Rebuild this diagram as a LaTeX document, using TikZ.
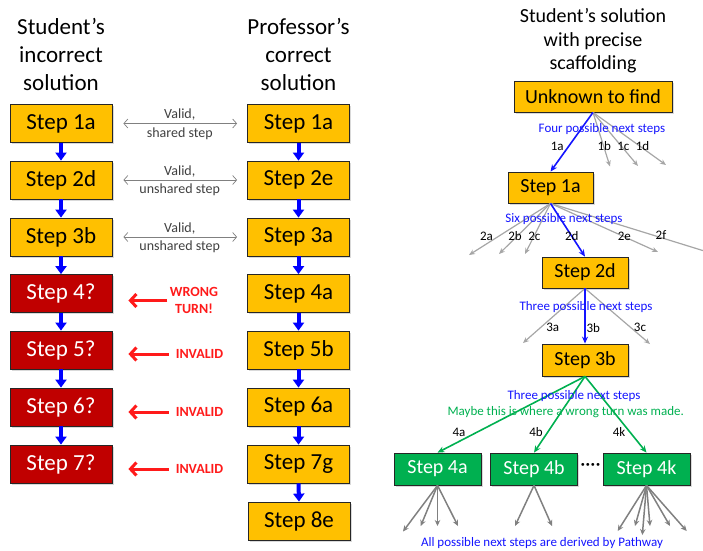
\documentclass[tikz,border=0pt]{standalone}
\usepackage{fontspec}
\setmainfont{Carlito}
\usetikzlibrary{arrows.meta,shadows}
\definecolor{amber}{HTML}{FFC000}
\definecolor{dred}{HTML}{C00000}
\definecolor{grn}{HTML}{00B050}
\definecolor{lgray}{HTML}{A6A6A6}
\definecolor{mgray}{HTML}{808080}
\definecolor{tblue}{HTML}{1414FF}
\definecolor{rlab}{HTML}{FF1A1A}
\begin{document}
\begin{tikzpicture}[x=1pt,y=-1pt,
  sbox/.style={draw=black!85, line width=0.8pt, inner sep=0pt,
    drop shadow={shadow xshift=1.5pt, shadow yshift=-1.5pt, opacity=0.3}},
  lbox/.style={sbox, minimum width=102pt, minimum height=38pt, font=\fontsize{23}{27}\selectfont},
  obox/.style={lbox, fill=amber},
  rbox/.style={lbox, fill=dred, text=white},
  tbox/.style={sbox, fill=amber, minimum width=86pt, minimum height=31pt, font=\fontsize{20}{24}\selectfont},
  gbox/.style={sbox, fill=grn, text=white, minimum width=87pt, minimum height=32pt, font=\fontsize{20}{24}\selectfont},
  title/.style={align=center, font=\fontsize{23}{28}\selectfont},
  ttitle/.style={align=center, font=\fontsize{20}{23.5}\selectfont},
  flowarrow/.style={blue, line width=4pt, -{Triangle[length=8pt,width=11pt]}},
  dblarrow/.style={mgray, line width=0.7pt, {Straight Barb[length=4pt,width=9pt]}-{Straight Barb[length=4pt,width=9pt]}, shorten <=11pt, shorten >=10pt},
  small/.style={font=\fontsize{14}{17}\selectfont, text=black!75},
  redlab/.style={text=rlab, inner sep=0pt, align=center, font=\bfseries\fontsize{14}{17}\selectfont},
  redarrow/.style={rlab, line width=3pt, -{Straight Barb[length=6pt,width=13pt]}, shorten >=16pt},
  garr/.style={lgray, line width=1.2pt, -{Stealth[length=6pt,width=5pt]}},
  darr/.style={mgray, line width=1.5pt, -{Stealth[length=6pt,width=5.5pt]}},
  barr/.style={tblue, line width=1.6pt, -{Stealth[length=7pt,width=6pt]}},
  grarr/.style={grn, line width=1.6pt, -{Stealth[length=7pt,width=6pt]}},
  tlab/.style={font=\fontsize{13}{15}\selectfont},
  blab/.style={tlab, text=tblue},
]
\useasboundingbox (0,0) rectangle (703,550);
\clip (0,0) rectangle (703,550);

% Titles
\node[title] (tl) at (61,54) {Student’s\\incorrect\\solution};
\node[title] (tr) at (298.5,54) {Professor’s\\correct\\solution};
\node[ttitle] (tt) at (593,41) {Student’s solution\\with precise\\scaffolding};

% Left column
\node[obox] (L1) at (61,123.5) {Step 1a};
\node[obox] (L2) at (61,180) {Step 2d};
\node[obox] (L3) at (61,237) {Step 3b};
\node[rbox] (L4) at (61,293.5) {Step 4?};
\node[rbox] (L5) at (61,350) {Step 5?};
\node[rbox] (L6) at (61,407) {Step 6?};
\node[rbox] (L7) at (61,464) {Step 7?};
\foreach \a/\b in {L1/L2,L2/L3,L3/L4,L4/L5,L5/L6,L6/L7}
  \draw[flowarrow] (\a.south) -- (\b.north);

% Right column
\node[obox] (R1) at (298.5,123.5) {Step 1a};
\node[obox] (R2) at (298.5,180) {Step 2e};
\node[obox] (R3) at (298.5,237) {Step 3a};
\node[obox] (R4) at (298.5,293.5) {Step 4a};
\node[obox] (R5) at (298.5,350) {Step 5b};
\node[obox] (R6) at (298.5,407) {Step 6a};
\node[obox] (R7) at (298.5,464) {Step 7g};
\node[obox] (R8) at (299,521) {Step 8e};
\foreach \a/\b in {R1/R2,R2/R3,R3/R4,R4/R5,R5/R6,R6/R7,R7/R8}
  \draw[flowarrow] (\a.south) -- (\b.north);

% Valid links
\draw[dblarrow] (L1) -- (R1)
  node[pos=.5, small, anchor=base, yshift=5pt] {Valid,}
  node[pos=.5, small, anchor=base, yshift=-13.5pt] {shared step};
\draw[dblarrow] (L2) -- (R2)
  node[pos=.5, small, anchor=base, yshift=5pt] {Valid,}
  node[pos=.5, small, anchor=base, yshift=-13.5pt] {unshared step};
\draw[dblarrow] (L3) -- (R3)
  node[pos=.5, small, anchor=base, yshift=5pt] {Valid,}
  node[pos=.5, small, anchor=base, yshift=-13.5pt] {unshared step};

% Red labels
\node[redlab] (w4) at (194,300.5) {WRONG\\TURN!};
\node[redlab] (i5) at (199.5,354) {INVALID};
\node[redlab] (i6) at (199.5,412) {INVALID};
\node[redlab] (i7) at (199.5,469) {INVALID};
\draw[redarrow, shorten <=2.5pt] (w4.west) -- (L4.east |- w4.west);
\draw[redarrow, shorten <=7pt] (i5.west) -- (L5.east |- i5.west);
\draw[redarrow, shorten <=7pt] (i6.west) -- (L6.east |- i6.west);
\draw[redarrow, shorten <=7pt] (i7.west) -- (L7.east |- i7.west);

% Tree
\node[tbox, minimum width=158pt] (U) at (593,96.5) {Unknown to find};
\node[tbox, minimum width=85pt] (T1) at (550.5,187.5) {Step 1a};
\node[tbox] (T2) at (585,272.5) {Step 2d};
\node[tbox, minimum height=32pt] (T3) at (585,360) {Step 3b};
\node[gbox] (G4a) at (437.5,469) {Step 4a};
\node[gbox] (G4b) at (534,469) {Step 4b};
\node[gbox] (G4k) at (646.5,469) {Step 4k};
\node[font=\fontsize{20}{24}\selectfont] (dots) at (590.5,467) {····};

% level 1
\coordinate (e1b) at (610,166.5);
\coordinate (e1c) at (638,166);
\coordinate (e1d) at (666,165);
\foreach \e in {e1b,e1c,e1d} \draw[garr] (U.south) -- (\e);
\draw[barr] (U.south) -- (T1.north);
\node[blab] (n1) at (602,128.7) {Four possible next steps};
\node[tlab] (l1a) at (557.3,146) {1a};
\node[tlab] (l1b) at (604.3,146) {1b};
\node[tlab] (l1c) at (623.3,146) {1c};
\node[tlab] (l1d) at (642.5,146) {1d};

% level 2
\coordinate (e2a) at (469,255);
\coordinate (e2b) at (499,254);
\coordinate (e2c) at (525,254);
\coordinate (e2e) at (658,252);
\coordinate (e2f) at (735,260.5);
\foreach \e in {e2a,e2b,e2c,e2e,e2f} \draw[garr] (T1.south) -- (\e);
\draw[barr] (T1.south) -- (T2.north);
\node[blab] (n2) at (564,218.7) {Six possible next steps};
\node[tlab] (l2a) at (486.5,236.5) {2a};
\node[tlab] (l2b) at (515,236.5) {2b};
\node[tlab] (l2c) at (534.3,236.5) {2c};
\node[tlab] (l2d) at (571.7,236.5) {2d};
\node[tlab] (l2e) at (624.3,236.5) {2e};
\node[tlab] (l2f) at (661,235.5) {2f};

% level 3
\coordinate (e3a) at (523,343);
\coordinate (e3c) at (650,344);
\foreach \e in {e3a,e3c} \draw[garr] (T2.south) -- (\e);
\draw[barr] (T2.south) -- (T3.north);
\node[blab] (n3) at (586,306.7) {Three possible next steps};
\node[tlab] (l3a) at (552.7,327.7) {3a};
\node[tlab] (l3b) at (593.3,327.7) {3b};
\node[tlab] (l3c) at (640,327.7) {3c};

% level 4
\draw[grarr] (T3.south) -- (G4a.north);
\draw[grarr] (T3.south) -- (G4b.north);
\draw[grarr] (T3.south) -- (G4k.north);
\node[blab] (n4) at (574,396) {Three possible next steps};
\node[tlab, text=grn] (n4b) at (565.7,411.7) {Maybe this is where a wrong turn was made.};
\node[tlab] (l4a) at (459,432) {4a};
\node[tlab] (l4b) at (536,432) {4b};
\node[tlab] (l4k) at (619,432) {4k};

% bottom fans
\coordinate (fa1) at (403,531.5);
\coordinate (fa2) at (420.7,526);
\coordinate (fa3) at (437.5,526);
\coordinate (fa4) at (458,526);
\foreach \e in {fa1,fa2,fa3,fa4} \draw[darr] (G4a.south) -- (\e);
\coordinate (fb1) at (515,526);
\coordinate (fb2) at (552,526);
\foreach \e in {fb1,fb2} \draw[darr] (G4b.south) -- (\e);
\coordinate (fk1) at (617.7,531);
\coordinate (fk2) at (635,526);
\coordinate (fk3) at (642.3,535);
\coordinate (fk4) at (650,526);
\coordinate (fk5) at (670,526);
\coordinate (fk6) at (686.7,531);
\foreach \e in {fk1,fk2,fk3,fk4,fk5,fk6} \draw[darr] (G4k.south) -- (\e);
\node[blab] (n5) at (542,543) {All possible next steps are derived by Pathway};
\end{tikzpicture}
\end{document}
